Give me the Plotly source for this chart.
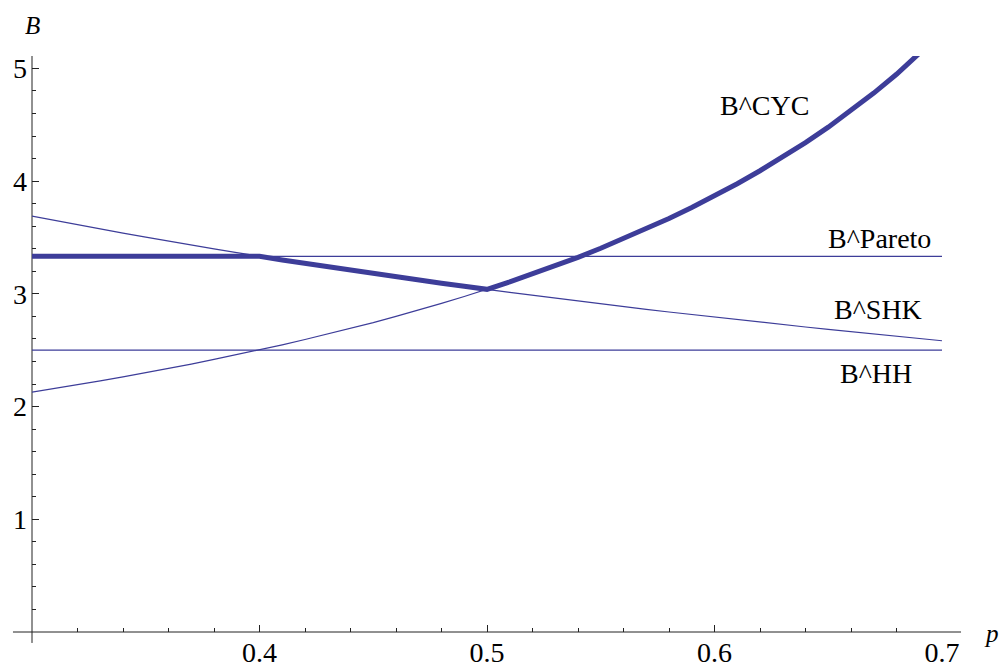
import plotly.graph_objects as go

# Data
p_vals = [0.30, 0.31, 0.32, 0.33, 0.34, 0.35, 0.36, 0.37, 0.38, 0.39, 0.40,
          0.41, 0.42, 0.43, 0.44, 0.45, 0.46, 0.47, 0.48, 0.49, 0.50,
          0.51, 0.52, 0.53, 0.54, 0.55, 0.56, 0.57, 0.58, 0.59, 0.60,
          0.61, 0.62, 0.63, 0.64, 0.65, 0.66, 0.67, 0.68, 0.69, 0.70]
b_cyc = [2.128, 2.160, 2.193, 2.228, 2.263, 2.300, 2.338, 2.377, 2.418, 2.460, 2.503,
         2.548, 2.595, 2.643, 2.693, 2.745, 2.800, 2.856, 2.915, 2.976, 3.040,
         3.106, 3.176, 3.248, 3.324, 3.404, 3.488, 3.576, 3.668, 3.766, 3.868,
         3.977, 4.092, 4.213, 4.342, 4.479, 4.625, 4.781, 4.948, 5.127, 5.319]
b_shk = [3.690, 3.651, 3.613, 3.575, 3.539, 3.503, 3.467, 3.433, 3.399, 3.366, 3.333,
         3.301, 3.270, 3.239, 3.209, 3.180, 3.151, 3.122, 3.094, 3.067, 3.040,
         3.013, 2.987, 2.961, 2.936, 2.911, 2.887, 2.863, 2.839, 2.816, 2.793,
         2.771, 2.749, 2.727, 2.706, 2.685, 2.664, 2.643, 2.623, 2.604, 2.584]
b_pareto = [3.333] * len(p_vals)
b_hh = [2.5] * len(p_vals)

x_ticks = [0.4, 0.5, 0.6, 0.7]
x_tick_labels = ["0.4", "0.5", "0.6", "0.7"]
y_ticks = [1, 2, 3, 4, 5]
y_tick_labels = ["1", "2", "3", "4", "5"]

labels = ["B^CYC", "B^Pareto", "B^SHK", "B^HH"]
label_x = [0.6218, 0.6727, 0.6719, 0.6710]
label_y = [4.67, 3.49, 2.857, 2.293]

# Bold envelope curve built from the series
b_env = [max(min(pa, s), c) for pa, s, c in zip(b_pareto, b_shk, b_cyc)]

COL = "#3d3d99"
FONT = "Liberation Serif"

fig = go.Figure()
for ys in (b_pareto, b_hh, b_shk, b_cyc):
    fig.add_trace(go.Scatter(x=p_vals, y=ys, mode="lines",
                             line=dict(color=COL, width=1.2),
                             hoverinfo="skip", showlegend=False))
fig.add_trace(go.Scatter(x=p_vals, y=b_env, mode="lines",
                         line=dict(color=COL, width=5),
                         hoverinfo="skip", showlegend=False))

for t, x, y in zip(labels, label_x, label_y):
    fig.add_annotation(x=x, y=y, text=t, showarrow=False, xref="x", yref="y",
                       font=dict(family=FONT, size=28, color="black"),
                       xanchor="center", yanchor="middle")

fig.add_annotation(x=0.0005, y=1.0535, xref="paper", yref="paper", text="<i>B</i>",
                   showarrow=False, font=dict(family=FONT, size=25, color="black"),
                   xanchor="center", yanchor="middle")
fig.add_annotation(x=1.054, y=-0.002, xref="paper", yref="paper", text="<i>p</i>",
                   showarrow=False, font=dict(family=FONT, size=25, color="black"),
                   xanchor="center", yanchor="middle")

# axis lines (extended past the origin, Mathematica style)
fig.add_shape(type="line", xref="paper", yref="paper", x0=-0.0209, x1=1.0209, y0=0, y1=0,
              line=dict(color="#222", width=1), layer="below")
fig.add_shape(type="line", xref="paper", yref="paper", x0=0, x1=0, y0=-0.019, y1=1,
              line=dict(color="#222", width=1), layer="below")

fig.update_xaxes(range=[0.3, 0.7], showgrid=False, zeroline=False, showline=False,
                 tickmode="array", tickvals=x_ticks, ticktext=x_tick_labels,
                 ticks="inside", ticklen=7, tickcolor="#222", tickwidth=1,
                 tickfont=dict(family=FONT, size=28, color="black"),
                 ticklabelstandoff=1,
                 minor=dict(tick0=0.3, dtick=0.02, ticks="inside", ticklen=4,
                            tickcolor="#222", tickwidth=1, showgrid=False))
fig.update_yaxes(range=[0, 5.11], showgrid=False, zeroline=False, showline=False,
                 tickmode="array", tickvals=y_ticks, ticktext=y_tick_labels,
                 ticks="inside", ticklen=7, tickcolor="#222", tickwidth=1,
                 tickfont=dict(family=FONT, size=28, color="black"),
                 ticklabelstandoff=4,
                 minor=dict(tick0=0, dtick=0.2, ticks="inside", ticklen=4,
                            tickcolor="#222", tickwidth=1, showgrid=False))

fig.update_layout(width=1005, height=667,
                  margin=dict(l=32, r=63, t=56, b=35, autoexpand=False),
                  plot_bgcolor="white", paper_bgcolor="white")

fig.write_html("out.html",
               config={"displayModeBar": False},
               post_script="document.body.style.margin='0';"
                           "document.body.style.overflow='hidden';")
